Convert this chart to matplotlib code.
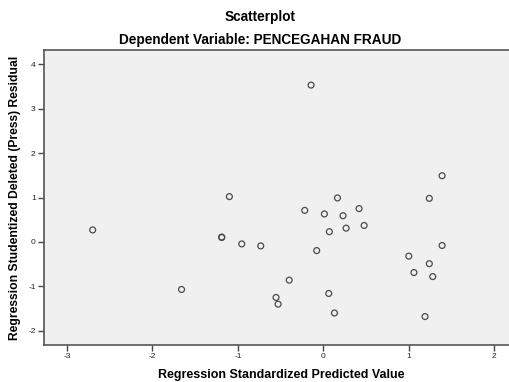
import matplotlib
matplotlib.use("Agg")
import matplotlib.pyplot as plt

plt.rcParams['font.family'] = ['Liberation Sans', 'DejaVu Sans']

predicted = [-2.70, -1.66, -0.144, -1.10, 0.165, -0.218, 0.012, 0.23, 0.266, 0.07,
             -1.19, -1.19, -0.955, -0.733, -0.078, -0.40, -0.554, -0.53, 0.063, 0.13,
             1.39, 1.24, 0.418, 0.477, 1.39, 1.00, 1.24, 1.06, 1.28, 1.19]
residual = [0.27, -1.07, 3.53, 1.02, 0.99, 0.71, 0.63, 0.59, 0.31, 0.23,
            0.10, 0.11, -0.045, -0.09, -0.195, -0.86, -1.25, -1.40, -1.16, -1.60,
            1.49, 0.98, 0.75, 0.37, -0.08, -0.32, -0.49, -0.69, -0.78, -1.68]
x_ticks = [-3, -2, -1, 0, 1, 2]
y_ticks = [-2, -1, 0, 1, 2, 3, 4]

W, H = 510, 382
fig = plt.figure(figsize=(W / 100, H / 100), dpi=100)
ax = fig.add_axes([44 / W, (H - 345) / H, (519 - 44) / W, (345 - 50) / H])
ax.set_facecolor('#f0f0f0')

ax.scatter(predicted, residual, s=18, facecolors='none', edgecolors='#4a4a4a', linewidths=0.9, zorder=3)

ax.set_xlim(-3.27, 2.29)
ax.set_ylim(-2.32, 4.32)
ax.set_xticks(x_ticks)
ax.set_yticks(y_ticks)
ax.set_xticklabels([str(v) for v in x_ticks])
ax.set_yticklabels([str(v) for v in y_ticks])
ax.tick_params(direction='out', length=4, width=1, color='#444444', labelsize=6, labelcolor='#222222', pad=2)

for s in ax.spines.values():
    s.set_color('#555555')
    s.set_linewidth(1.2)

ax.set_xlabel('Regression Standardized Predicted Value', fontsize=9, fontweight='bold', va='center')
ax.xaxis.set_label_coords(0.5, -30 / 295)
ax.set_ylabel('Regression Studentized Deleted (Press) Residual', fontsize=8.7, fontweight='bold', labelpad=5)

fig.text(260 / W, 1 - 17 / H, 'Scatterplot', ha='center', va='center', fontsize=9.8, fontweight='bold')
fig.text(260 / W, 1 - 40 / H, 'Dependent Variable: PENCEGAHAN FRAUD', ha='center', va='center', fontsize=9.8, fontweight='bold')

fig.savefig('out.png', dpi=100)
